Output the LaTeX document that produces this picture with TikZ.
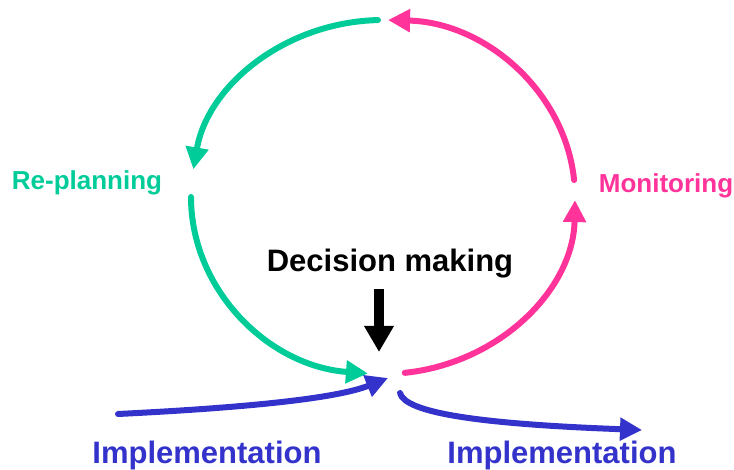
\documentclass[tikz,border=0pt]{standalone}
\usepackage{fontspec}
\setmainfont{Liberation Sans}
\usetikzlibrary{arrows.meta,calc}
\definecolor{replangreen}{RGB}{0,204,153}
\definecolor{monpink}{RGB}{255,51,153}
\definecolor{impblue}{RGB}{51,51,204}
\begin{document}
\begin{tikzpicture}[x=1pt,y=1pt,
    cyc/.style={line width=6pt,line cap=round,-{Triangle[length=22pt,width=22pt]}},
    lbl/.style={font=\bfseries\fontsize{26}{30}\selectfont,inner sep=0pt,anchor=base},
    biglbl/.style={lbl,font=\bfseries\fontsize{31}{35}\selectfont}]
    \useasboundingbox (0,0) rectangle (734,469);
    % the cycle
    \coordinate (c) at (383,272);
    \coordinate (g1) at ($(c)+(91.5:192 and 177)$);
    \coordinate (g2) at ($(c)+(180:192 and 177)$);
    \coordinate (p1) at ($(c)+(276.5:192 and 177)$);
    \coordinate (p2) at ($(c)+(5.5:192 and 177)$);
    \draw[cyc,replangreen] (g1) arc[start angle=91.5,end angle=171,x radius=192,y radius=177];
    \draw[cyc,replangreen] (g2) arc[start angle=180,end angle=265.5,x radius=192,y radius=177];
    \draw[cyc,monpink] (p1) arc[start angle=276.5,end angle=359,x radius=192,y radius=177];
    \draw[cyc,monpink] (p2) arc[start angle=5.5,end angle=88.5,x radius=192,y radius=177];
    % labels
    \node[lbl,text=replangreen] (replan) at (87,279) {Re-planning};
    \node[lbl,text=monpink] (monitor) at (666,276) {Monitoring};
    \node[biglbl] (decide) at (390,197) {Decision making};
    \node[biglbl,text=impblue] (implin) at (207,6) {Implementation};
    \node[biglbl,text=impblue] (implout) at (562,6) {Implementation};
    % decision arrow
    \coordinate (dtip) at (379,117);
    \draw[line width=10pt,-{Triangle[length=26pt,width=28pt]}] ([xshift=-11pt,yshift=-10pt]decide.south) -- (dtip);
    % implementation in and out
    \coordinate (inA) at (118,55);
    \coordinate (inB) at (388,91);
    \coordinate (outA) at (400,76);
    \coordinate (outB) at (642,39);
    \draw[cyc,impblue] (inA) .. controls (240,61) and (335,70) .. (inB);
    \draw[cyc,impblue] (outA) .. controls (405,56) and (480,45) .. (outB);
\end{tikzpicture}
\end{document}
